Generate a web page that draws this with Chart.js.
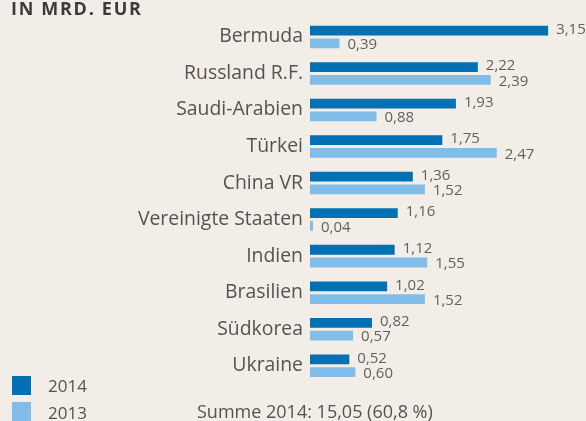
<!DOCTYPE html>
<html>
<head>
<meta charset="utf-8">
<script src="https://cdn.jsdelivr.net/npm/chart.js@4"></script>
<style>
  html, body { margin: 0; padding: 0; background: #f2ede6; }
  #wrap { position: relative; width: 586px; height: 421px; overflow: hidden; background: #f2ede6; font-family: "Open Sans", sans-serif; }
  canvas { position: absolute; left: 0; top: 0; }
  .title { position: absolute; left: 11px; top: -4.5px; font-weight: 700; font-size: 18px; letter-spacing: 1.7px; color: #3f3a36; }
  .leg { position: absolute; left: 12px; width: 19px; height: 19px; }
  .legt { position: absolute; left: 48px; font-size: 17px; color: #57524d; line-height: 20px; }
  .sum { position: absolute; left: 197px; top: 401px; font-size: 18px; color: #57524d; line-height: 20px; }
</style>
</head>
<body>
<div id="wrap">
  <canvas id="c" width="586" height="421"></canvas>
  <div class="title">IN MRD. EUR</div>
  <div class="leg" id="l1" style="top:376px"></div>
  <div class="legt" id="t1" style="top:376px"></div>
  <div class="leg" id="l2" style="top:402px"></div>
  <div class="legt" id="t2" style="top:403px"></div>
  <div class="sum" id="sum"></div>
</div>
<script>
const categories = ["Bermuda", "Russland R.F.", "Saudi-Arabien", "Türkei", "China VR", "Vereinigte Staaten", "Indien", "Brasilien", "Südkorea", "Ukraine"];
const values2014 = [3.15, 2.22, 1.93, 1.75, 1.36, 1.16, 1.12, 1.02, 0.82, 0.52];
const values2013 = [0.39, 2.39, 0.88, 2.47, 1.52, 0.04, 1.55, 1.52, 0.57, 0.60];
const seriesLabels = ["2014", "2013"];
const summaryText = "Summe 2014: 15,05 (60,8 %)";

const colDark = "#0071b5";
const colLight = "#80bde8";

document.getElementById("l1").style.background = colDark;
document.getElementById("l2").style.background = colLight;
document.getElementById("t1").textContent = seriesLabels[0];
document.getElementById("t2").textContent = seriesLabels[1];
document.getElementById("sum").textContent = summaryText;

const fmt = v => v.toFixed(2).replace(".", ",");

const valueLabels = {
  id: "valueLabels",
  afterDatasetsDraw(chart) {
    const ctx = chart.ctx;
    ctx.save();
    ctx.font = "15px 'Open Sans'";
    ctx.fillStyle = "#645f5a";
    ctx.textAlign = "left";
    ctx.textBaseline = "middle";
    chart.data.datasets.forEach((ds, di) => {
      const meta = chart.getDatasetMeta(di);
      meta.data.forEach((bar, i) => {
        const dy = di === 0 ? -1 : 1.5;
        ctx.fillText(fmt(ds.data[i]), bar.x + 8, bar.y + dy);
      });
    });
    ctx.restore();
  }
};

new Chart(document.getElementById("c"), {
  type: "bar",
  data: {
    labels: categories,
    datasets: [
      { label: seriesLabels[0], data: values2014, backgroundColor: colDark },
      { label: seriesLabels[1], data: values2013, backgroundColor: colLight }
    ]
  },
  options: {
    indexAxis: "y",
    responsive: false,
    animation: false,
    layout: { padding: { top: 11, bottom: 37, left: 0, right: 11.4 } },
    datasets: { bar: { categoryPercentage: 0.6965, barPercentage: 0.769 } },
    scales: {
      x: { display: false, min: 0, max: 3.5 },
      y: {
        afterFit: (axis) => { axis.width = 310; },
        grid: { display: false, drawTicks: false },
        border: { display: false },
        ticks: { padding: 7, color: "#57524d", font: { family: "Open Sans", size: 19.4 } }
      }
    },
    plugins: { legend: { display: false }, tooltip: { enabled: false } }
  },
  plugins: [valueLabels]
});
</script>
</body>
</html>
